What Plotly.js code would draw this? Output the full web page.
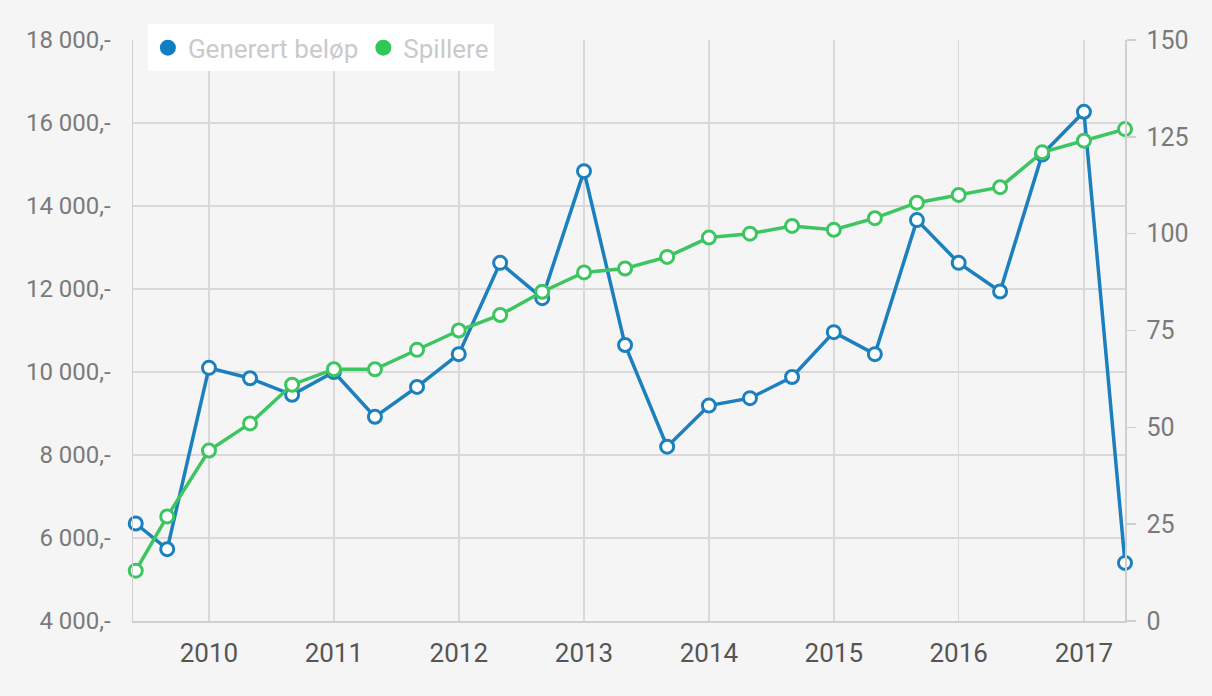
<!DOCTYPE html>
<html>
<head>
<meta charset="utf-8">
<script src="https://cdn.plot.ly/plotly-3.0.1.min.js"></script>
<style>
  html, body { margin: 0; padding: 0; background: #f5f5f5; }
  #chart { width: 1212px; height: 696px; }
</style>
</head>
<body>
<div id="chart"></div>
<script>
// Dates of each observation (every four months)
const dates = [
  '2009-06-01','2009-09-01','2010-01-01','2010-05-01','2010-09-01',
  '2011-01-01','2011-05-01','2011-09-01','2012-01-01','2012-05-01',
  '2012-09-01','2013-01-01','2013-05-01','2013-09-01','2014-01-01',
  '2014-05-01','2014-09-01','2015-01-01','2015-05-01','2015-09-01',
  '2016-01-01','2016-05-01','2016-09-01','2017-01-01','2017-05-01'
];
// Generert beløp (NOK), left axis
const belop = [
  6350, 5730, 10100, 9850, 9450,
  10000, 8920, 9640, 10430, 12630,
  11780, 14840, 10650, 8200, 9190,
  9370, 9880, 10960, 10430, 13660,
  12630, 11940, 15240, 16270, 5400
];
// Spillere (count), right axis
const spillere = [
  13, 27, 44, 51, 61,
  65, 65, 70, 75, 79,
  85, 90, 91, 94, 99,
  100, 102, 101, 104, 108,
  110, 112, 121, 124, 127
];
const leftTickVals = [4000, 6000, 8000, 10000, 12000, 14000, 16000, 18000];
const leftTickText = ['4 000,-', '6 000,-', '8 000,-', '10 000,-', '12 000,-', '14 000,-', '16 000,-', '18 000,-'];
const yearTickVals = ['2010-01-01','2011-01-01','2012-01-01','2013-01-01','2014-01-01','2015-01-01','2016-01-01','2017-01-01'];
const yearTickText = ['2010','2011','2012','2013','2014','2015','2016','2017'];
const seriesNames = ['Generert beløp', 'Spillere'];

const blue = '#1b80bd';
const green = '#3cc560';
const grid = '#d9d9d9';

const traces = [
  {
    x: dates, y: belop, name: seriesNames[0], type: 'scatter', mode: 'lines+markers',
    yaxis: 'y', showlegend: false, cliponaxis: false,
    line: { color: blue, width: 3.5 },
    marker: { symbol: 'circle', size: 13, color: '#ffffff', line: { color: blue, width: 3 } }
  },
  {
    x: dates, y: spillere, name: seriesNames[1], type: 'scatter', mode: 'lines+markers',
    yaxis: 'y2', showlegend: false, cliponaxis: false,
    line: { color: green, width: 3.5 },
    marker: { symbol: 'circle', size: 13, color: '#ffffff', line: { color: green, width: 3 } }
  },
  {
    x: [null], y: [null], name: seriesNames[0], type: 'scatter', mode: 'markers',
    marker: { symbol: 'circle', size: 16, color: '#0f7ec2' }, hoverinfo: 'skip'
  },
  {
    x: [null], y: [null], name: seriesNames[1], type: 'scatter', mode: 'markers', yaxis: 'y2',
    marker: { symbol: 'circle', size: 16, color: '#2fc75a' }, hoverinfo: 'skip'
  }
];

const layout = {
  width: 1212, height: 696,
  paper_bgcolor: '#f5f5f5', plot_bgcolor: '#f5f5f5',
  margin: { l: 133, r: 87, t: 40, b: 75 },
  font: { family: 'Roboto, "DejaVu Sans", sans-serif' },
  showlegend: true,
  legend: {
    orientation: 'h', x: 0.015, y: 1.027, xanchor: 'left', yanchor: 'top',
    bgcolor: '#ffffff', borderwidth: 0,
    font: { size: 26, color: '#cacaca', family: 'Roboto, sans-serif' },
    itemwidth: 30, tracegroupgap: 0
  },
  xaxis: {
    type: 'date',
    range: ['2009-05-24', '2017-05-01'],
    tickmode: 'array', tickvals: yearTickVals, ticktext: yearTickText,
    showgrid: true, gridcolor: grid, gridwidth: 1.5,
    showline: true, linecolor: '#cfcfcf', linewidth: 1.5,
    ticks: '', zeroline: false,
    tickfont: { size: 26, color: '#555555', family: 'Roboto, sans-serif' },
    ticklabelstandoff: 8
  },
  yaxis: {
    range: [4000, 18000],
    tickmode: 'array', tickvals: leftTickVals, ticktext: leftTickText,
    showgrid: true, gridcolor: grid, gridwidth: 1.5,
    showline: true, linecolor: '#cfcfcf', linewidth: 1.5,
    ticks: '', zeroline: false,
    tickfont: { size: 24, color: '#7a7a7a', family: 'Roboto, sans-serif' },
    ticklabelstandoff: 16
  },
  yaxis2: {
    range: [0, 150], overlaying: 'y', side: 'right',
    tickmode: 'linear', tick0: 0, dtick: 25,
    showgrid: false, zeroline: false,
    showline: true, linecolor: '#cfcfcf', linewidth: 1.5,
    ticks: 'outside', ticklen: 9, tickwidth: 1.5, tickcolor: '#cfcfcf',
    tickfont: { size: 25, color: '#7a7a7a', family: 'Roboto, sans-serif' },
    ticklabelstandoff: 6
  }
};

Plotly.newPlot('chart', traces, layout, { displayModeBar: false, staticPlot: true });
</script>
</body>
</html>
